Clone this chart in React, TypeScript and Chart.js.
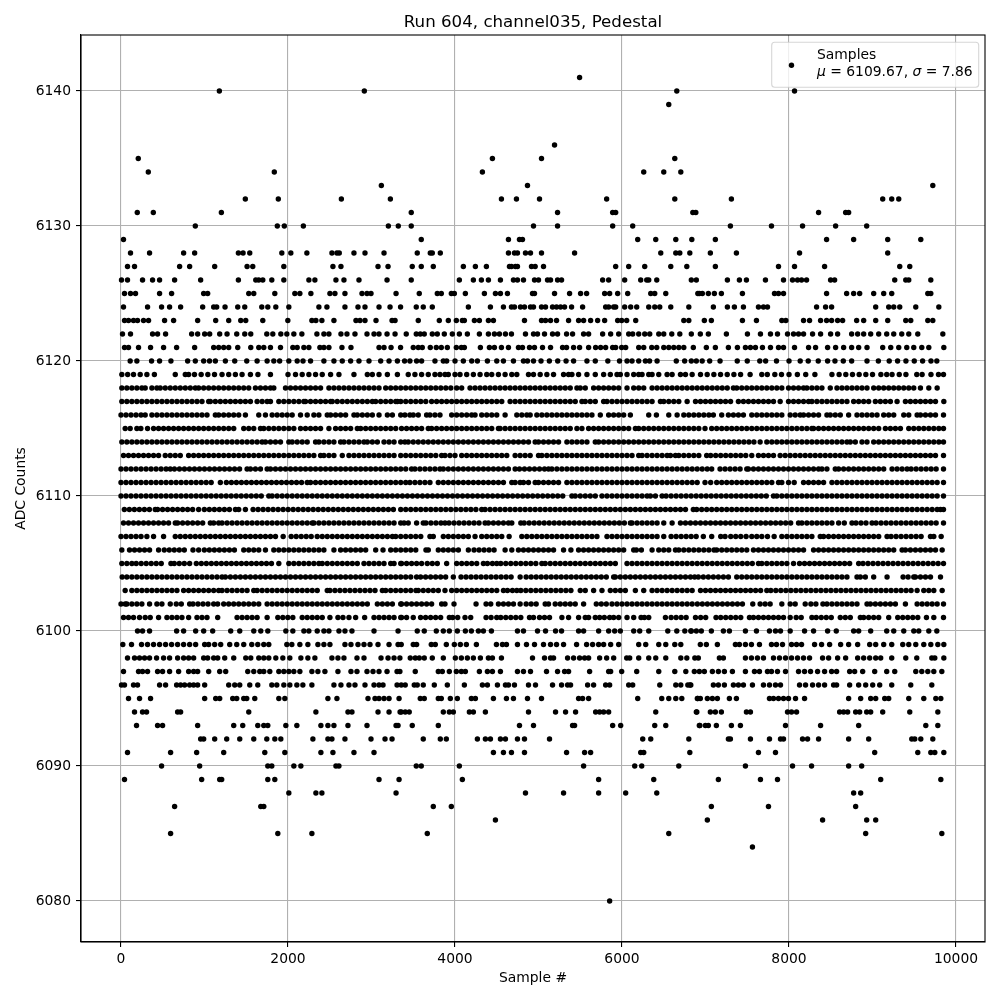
import React, { useEffect, useRef } from "react";
import { Chart, registerables } from "chart.js";
Chart.register(...registerables);

const xTicks = [0, 2000, 4000, 6000, 8000, 10000];
const yTicks = [6080, 6090, 6100, 6110, 6120, 6130, 6140];
const upperRows: Record<number, number[]> = {
  6141: [5492],
  6140: [1178, 2914, 6656, 8066],
  6139: [6560],
  6136: [5192],
  6135: [207, 4448, 5036, 6632],
  6134: [327, 1836, 4328, 6260, 6500, 6704],
  6133: [3118, 4868, 9722],
  6132: [1489, 1884, 2639, 3226, 4556, 4736, 5012, 5816, 6632, 7310, 9122, 9230, 9314],
  6131: [195, 387, 1202, 3476, 5228, 5888, 5924, 6848, 6884, 8354, 8678, 8714],
  6130: [890, 1872, 1956, 2184, 3202, 3321, 3476, 4940, 5228, 5888, 6128, 7298, 7790, 8162, 8558, 8930],
  6129: [30, 3596, 4640, 4772, 4808, 6188, 6404, 6644, 6836, 7118, 8450, 8774, 9182, 9578],
  6128: [114, 342, 750, 882, 1406, 1462, 1542, 1926, 2034, 2226, 2526, 2586, 2614, 2790, 2922, 3150, 3548, 3704, 3728, 3824, 4640, 4712, 4748, 4844, 4904, 5036, 5432, 6464, 6644, 6692, 6812, 7058, 7370, 8126, 9182],
  6127: [78, 162, 702, 822, 1122, 1510, 1578, 1950, 2538, 2634, 3078, 3198, 3488, 3596, 3740, 4100, 4244, 4376, 4652, 4676, 4724, 4748, 4916, 4960, 5060, 5924, 6080, 6272, 6584, 6776, 7118, 7874, 8066, 8426, 9326, 9446],
  6126: [6, 78, 258, 378, 462, 642, 954, 1406, 1614, 1650, 1698, 1806, 1950, 2250, 2322, 2574, 2670, 2850, 3186, 3476, 4052, 4220, 4316, 4400, 4544, 4700, 4748, 4820, 4952, 5000, 5108, 5144, 5228, 5276, 5768, 5840, 6032, 6224, 6296, 6320, 6416, 6830, 6890, 7262, 7406, 7490, 7718, 7934, 8042, 8102, 8150, 8210, 8498, 8546, 9266, 9398, 9434, 9698],
  6125: [42, 114, 174, 462, 606, 990, 1038, 1530, 1590, 1842, 2082, 2142, 2274, 2502, 2562, 2682, 2886, 2946, 2994, 3294, 3572, 3788, 3836, 3956, 3992, 4124, 4352, 4484, 4544, 4628, 4928, 4952, 5192, 5372, 5504, 5576, 5792, 5852, 5948, 6068, 6344, 6392, 6524, 6908, 6926, 6962, 7034, 7106, 7190, 7442, 7826, 7874, 7934, 8450, 8690, 8774, 8846, 9014, 9134, 9230, 9662, 9698],
  6124: [30, 318, 486, 582, 714, 978, 1110, 1146, 1246, 1398, 1482, 1686, 1758, 1854, 2010, 2370, 2466, 2682, 2838, 2922, 3090, 3222, 3348, 3536, 3620, 3728, 4160, 4424, 4580, 4676, 4712, 4784, 4832, 4904, 4940, 5036, 5084, 5168, 5216, 5264, 5312, 5396, 5528, 5804, 5840, 5900, 5924, 6032, 6104, 6176, 6320, 6392, 6452, 6584, 6800, 7094, 7262, 7346, 7454, 7634, 7694, 7742, 8330, 8438, 8510, 9038, 9194, 9254, 9326, 9518, 9794],
  6123: [42, 90, 150, 198, 270, 330, 522, 630, 918, 1134, 1290, 1434, 1494, 1698, 1998, 2286, 2334, 2406, 2550, 2814, 2862, 2922, 3054, 3246, 3282, 3560, 3812, 3920, 4016, 4088, 4112, 4232, 4292, 4400, 4460, 4832, 5036, 5084, 5144, 5216, 5360, 5480, 5540, 5624, 5708, 5792, 5948, 5996, 6056, 6164, 6740, 6800, 6986, 7070, 7442, 7610, 7914, 7962, 8174, 8246, 8378, 8450, 8510, 8582, 8642, 8810, 8894, 9038, 9182, 9398, 9458, 9662, 9722],
  6122: [18, 114, 378, 438, 534, 846, 918, 1002, 1062, 1182, 1270, 1386, 1482, 1554, 1746, 1818, 1914, 1986, 2070, 2166, 2346, 2430, 2490, 2634, 2706, 2802, 2946, 3030, 3090, 3186, 3282, 3416, 3536, 3584, 3632, 3728, 3788, 3872, 3968, 4052, 4148, 4292, 4400, 4472, 4532, 4604, 4676, 4844, 4940, 4988, 5072, 5168, 5228, 5336, 5408, 5540, 5600, 5768, 5864, 5960, 6080, 6128, 6200, 6272, 6332, 6440, 6500, 6596, 6692, 6830, 6938, 7034, 7250, 7502, 7658, 7778, 7862, 7982, 8054, 8114, 8174, 8282, 8378, 8498, 8582, 8750, 8822, 8894, 8978, 9074, 9170, 9254, 9350, 9434, 9542, 9842],
  6121: [42, 90, 210, 354, 510, 666, 882, 1110, 1170, 1230, 1290, 1398, 1554, 1650, 1710, 1790, 1910, 2058, 2110, 2190, 2250, 2382, 2430, 2490, 2646, 2754, 3090, 3150, 3234, 3348, 3500, 3560, 3608, 3704, 3776, 3836, 3908, 4016, 4076, 4112, 4304, 4412, 4472, 4556, 4640, 4760, 4808, 4892, 4952, 5048, 5144, 5288, 5336, 5420, 5492, 5600, 5684, 5744, 5804, 5888, 5924, 5996, 6044, 6200, 6260, 6356, 6416, 6500, 6560, 6620, 6680, 6740, 6854, 7010, 7118, 7274, 7382, 7478, 7538, 7598, 7682, 7778, 7874, 7934, 8066, 8234, 8318, 8462, 8558, 8654, 8750, 8834, 8934, 9122, 9218, 9314, 9410, 9494, 9590, 9674, 9854],
  6120: [110, 190, 366, 462, 598, 798, 890, 990, 1060, 1130, 1250, 1362, 1506, 1630, 1750, 1830, 1900, 2010, 2110, 2180, 2270, 2430, 2550, 2650, 2750, 2850, 2970, 3110, 3210, 3310, 3396, 3460, 3540, 3600, 3760, 3860, 3900, 4000, 4100, 4200, 4268, 4388, 4500, 4580, 4700, 4820, 4868, 4940, 5030, 5130, 5230, 5330, 5420, 5580, 5680, 5830, 5970, 6060, 6120, 6200, 6280, 6330, 6420, 6650, 6750, 6830, 6890, 6960, 7050, 7174, 7380, 7500, 7650, 7720, 7850, 8000, 8134, 8230, 8350, 8462, 8550, 8650, 8750, 8934, 9070, 9200, 9300, 9400, 9500, 9600, 9700, 9770],
  6119: [10, 80, 150, 230, 310, 400, 650, 770, 810, 880, 960, 1040, 1120, 1210, 1290, 1370, 1450, 1550, 1640, 1790, 2000, 2090, 2170, 2250, 2330, 2410, 2510, 2610, 2790, 2950, 3010, 3090, 3190, 3310, 3440, 3520, 3600, 3680, 3760, 3820, 3880, 3920, 4000, 4060, 4140, 4220, 4300, 4380, 4440, 4520, 4600, 4680, 4740, 4880, 4940, 5020, 5100, 5180, 5300, 5360, 5400, 5480, 5580, 5680, 5780, 5860, 5940, 5980, 6060, 6140, 6200, 6240, 6320, 6360, 6440, 6540, 6600, 6700, 6760, 6840, 6940, 7020, 7100, 7180, 7260, 7340, 7420, 7534, 7674, 7740, 7830, 7910, 8000, 8100, 8200, 8310, 8514, 8600, 8680, 8760, 8840, 8920, 9000, 9100, 9170, 9234, 9320, 9400, 9530, 9594, 9700, 9790, 9850],
};
const middleRows: Record<number, number[]> = {
  6118: [10, 70, 130, 190, 250, 290, 370, 430, 470, 530, 590, 650, 710, 770, 830, 890, 930, 990, 1050, 1110, 1170, 1230, 1290, 1350, 1410, 1470, 1530, 1610, 1670, 1730, 1790, 1830, 1970, 2030, 2090, 2150, 2210, 2270, 2330, 2390, 2490, 2550, 2610, 2670, 2730, 2790, 2850, 2910, 2970, 3030, 3090, 3170, 3230, 3290, 3350, 3410, 3470, 3530, 3590, 3650, 3710, 3770, 3830, 3890, 3950, 4020, 4080, 4180, 4240, 4300, 4360, 4420, 4480, 4540, 4600, 4660, 4720, 4780, 4840, 4900, 4960, 5020, 5080, 5140, 5200, 5260, 5320, 5380, 5460, 5500, 5560, 5660, 5720, 5780, 5840, 5900, 5960, 6060, 6140, 6200, 6260, 6360, 6420, 6480, 6540, 6600, 6660, 6720, 6780, 6840, 6900, 6960, 7020, 7080, 7140, 7200, 7260, 7334, 7374, 7434, 7494, 7554, 7614, 7674, 7734, 7794, 7854, 7914, 7994, 8054, 8114, 8174, 8214, 8274, 8334, 8394, 8494, 8574, 8634, 8694, 8754, 8814, 8874, 8934, 9014, 9074, 9134, 9194, 9254, 9314, 9374, 9434, 9494, 9574, 9674, 9774],
  6117: [10, 70, 130, 190, 250, 310, 370, 430, 490, 550, 610, 670, 730, 790, 850, 910, 970, 1050, 1070, 1130, 1190, 1250, 1310, 1370, 1430, 1490, 1550, 1630, 1690, 1750, 1790, 1890, 1950, 2010, 2070, 2130, 2190, 2210, 2270, 2330, 2390, 2450, 2510, 2530, 2590, 2650, 2710, 2770, 2830, 2890, 2950, 3010, 3050, 3110, 3170, 3230, 3290, 3310, 3350, 3410, 3470, 3530, 3590, 3650, 3720, 3780, 3840, 3900, 3960, 4020, 4080, 4140, 4200, 4260, 4320, 4380, 4440, 4500, 4560, 4660, 4720, 4780, 4840, 4900, 4960, 5020, 5080, 5140, 5200, 5260, 5320, 5380, 5440, 5520, 5560, 5620, 5680, 5780, 5820, 5880, 5940, 6000, 6060, 6120, 6180, 6240, 6300, 6360, 6460, 6500, 6560, 6620, 6680, 6780, 6880, 6940, 7000, 7060, 7120, 7180, 7240, 7300, 7394, 7454, 7514, 7574, 7634, 7694, 7754, 7814, 7894, 7994, 8054, 8114, 8174, 8234, 8274, 8334, 8394, 8454, 8514, 8574, 8634, 8694, 8774, 8834, 8894, 8954, 9034, 9094, 9154, 9214, 9294, 9394, 9454, 9514, 9574, 9634, 9694, 9754, 9854],
  6116: [0, 60, 120, 180, 240, 290, 370, 430, 490, 550, 610, 670, 730, 790, 850, 910, 970, 1030, 1130, 1170, 1230, 1290, 1350, 1410, 1490, 1650, 1730, 1810, 1870, 1930, 1990, 2050, 2150, 2230, 2310, 2370, 2470, 2510, 2570, 2630, 2690, 2790, 2830, 2890, 2950, 3010, 3090, 3190, 3250, 3350, 3400, 3460, 3500, 3560, 3660, 3700, 3760, 3820, 3960, 4020, 4080, 4140, 4200, 4240, 4320, 4380, 4440, 4500, 4600, 4740, 4800, 4860, 4900, 4980, 5040, 5100, 5160, 5220, 5280, 5340, 5400, 5460, 5520, 5580, 5640, 5740, 5840, 5900, 5960, 6020, 6100, 6320, 6412, 6560, 6660, 6740, 6800, 6860, 6920, 6980, 7040, 7094, 7194, 7274, 7334, 7394, 7454, 7554, 7614, 7674, 7734, 7794, 7854, 7914, 8014, 8074, 8134, 8174, 8234, 8294, 8354, 8454, 8494, 8554, 8614, 8714, 8814, 8874, 8934, 8994, 9054, 9134, 9194, 9254, 9374, 9434, 9534, 9574, 9634, 9694, 9754, 9850],
  6115: [50, 110, 190, 238, 318, 390, 450, 510, 570, 630, 690, 750, 810, 870, 930, 990, 1050, 1110, 1170, 1230, 1290, 1350, 1470, 1530, 1590, 1670, 1710, 1770, 1830, 1890, 1950, 2010, 2070, 2150, 2210, 2270, 2330, 2390, 2490, 2570, 2630, 2690, 2750, 2830, 2870, 2930, 2990, 3050, 3110, 3170, 3230, 3290, 3360, 3420, 3480, 3540, 3600, 3680, 3720, 3780, 3840, 3900, 3960, 4020, 4080, 4140, 4200, 4260, 4320, 4380, 4440, 4520, 4540, 4600, 4660, 4720, 4780, 4840, 4900, 4960, 5020, 5080, 5140, 5200, 5260, 5320, 5380, 5460, 5520, 5600, 5660, 5720, 5780, 5840, 5900, 5960, 6020, 6080, 6160, 6200, 6260, 6320, 6380, 6440, 6500, 6560, 6620, 6680, 6740, 6800, 6860, 6920, 6994, 7074, 7134, 7194, 7254, 7314, 7374, 7434, 7494, 7554, 7614, 7674, 7734, 7794, 7854, 7914, 7974, 8034, 8094, 8154, 8214, 8274, 8294, 8354, 8414, 8474, 8534, 8594, 8654, 8714, 8774, 8834, 8894, 8954, 9014, 9074, 9154, 9214, 9274, 9334, 9434, 9494, 9554, 9614, 9674, 9734, 9794, 9850],
  6114: [10, 70, 130, 190, 250, 310, 370, 430, 490, 550, 610, 670, 730, 790, 850, 910, 970, 1030, 1090, 1150, 1210, 1270, 1330, 1390, 1450, 1510, 1570, 1630, 1690, 1730, 1790, 1850, 1910, 2010, 2050, 2110, 2170, 2230, 2330, 2370, 2430, 2490, 2550, 2630, 2670, 2730, 2790, 2850, 2910, 2950, 3010, 3070, 3150, 3210, 3270, 3350, 3400, 3440, 3500, 3560, 3620, 3680, 3740, 3800, 3860, 3920, 3980, 4040, 4100, 4160, 4220, 4280, 4340, 4400, 4460, 4520, 4580, 4640, 4700, 4760, 4820, 4880, 4960, 5000, 5060, 5120, 5180, 5240, 5340, 5400, 5460, 5520, 5580, 5680, 5720, 5780, 5840, 5900, 5960, 6020, 6080, 6140, 6200, 6260, 6320, 6380, 6440, 6500, 6560, 6620, 6680, 6740, 6800, 6860, 6920, 6980, 7040, 7100, 7160, 7220, 7280, 7340, 7400, 7460, 7520, 7580, 7654, 7734, 7794, 7854, 7914, 7974, 8034, 8094, 8154, 8214, 8274, 8334, 8394, 8454, 8514, 8574, 8634, 8694, 8734, 8794, 8874, 8934, 9014, 9074, 9134, 9194, 9254, 9314, 9374, 9434, 9494, 9554, 9614, 9674, 9734, 9794, 9850],
  6113: [30, 90, 150, 210, 270, 330, 390, 450, 530, 590, 650, 710, 810, 870, 930, 990, 1050, 1110, 1170, 1230, 1290, 1350, 1410, 1470, 1530, 1590, 1650, 1710, 1770, 1830, 1890, 1950, 2010, 2070, 2130, 2190, 2250, 2310, 2390, 2430, 2490, 2550, 2650, 2730, 2790, 2850, 2910, 2970, 3030, 3090, 3150, 3210, 3270, 3350, 3410, 3470, 3530, 3590, 3650, 3710, 3770, 3840, 3880, 3940, 4000, 4080, 4140, 4200, 4260, 4320, 4380, 4440, 4500, 4560, 4620, 4720, 4780, 4840, 4900, 5000, 5040, 5100, 5160, 5220, 5280, 5340, 5400, 5460, 5520, 5580, 5640, 5700, 5760, 5820, 5880, 5940, 6000, 6060, 6120, 6200, 6240, 6300, 6360, 6420, 6480, 6540, 6580, 6640, 6680, 6740, 6800, 6860, 6920, 7014, 7062, 7122, 7182, 7242, 7302, 7362, 7422, 7482, 7554, 7634, 7694, 7754, 7814, 7894, 7954, 8014, 8074, 8134, 8194, 8254, 8314, 8374, 8434, 8494, 8554, 8614, 8674, 8734, 8794, 8854, 8914, 8974, 9034, 9094, 9154, 9214, 9274, 9334, 9394, 9454, 9514, 9574, 9634, 9694, 9754, 9850],
  6112: [0, 60, 120, 180, 240, 300, 360, 420, 480, 540, 590, 640, 700, 760, 820, 880, 940, 1000, 1060, 1120, 1180, 1240, 1300, 1360, 1420, 1510, 1550, 1610, 1670, 1750, 1790, 1850, 1910, 1970, 2030, 2090, 2150, 2210, 2270, 2330, 2390, 2450, 2510, 2570, 2630, 2690, 2750, 2810, 2870, 2930, 2990, 3050, 3110, 3170, 3230, 3290, 3350, 3410, 3480, 3520, 3580, 3640, 3700, 3760, 3820, 3860, 3920, 3980, 4040, 4100, 4160, 4220, 4280, 4340, 4400, 4460, 4520, 4580, 4640, 4720, 4772, 4832, 4892, 4952, 5012, 5072, 5120, 5160, 5220, 5280, 5340, 5400, 5460, 5520, 5580, 5640, 5700, 5760, 5820, 5880, 5940, 6000, 6060, 6120, 6180, 6240, 6300, 6360, 6420, 6480, 6540, 6600, 6660, 6720, 6780, 6840, 6900, 6960, 7020, 7074, 7174, 7234, 7294, 7354, 7414, 7494, 7514, 7574, 7634, 7694, 7754, 7814, 7874, 7934, 7994, 8054, 8114, 8174, 8234, 8294, 8354, 8394, 8454, 8554, 8594, 8654, 8714, 8774, 8834, 8894, 8954, 9014, 9074, 9134, 9234, 9294, 9354, 9414, 9462, 9522, 9582, 9642, 9702, 9762, 9850],
  6111: [0, 60, 120, 180, 240, 300, 360, 420, 480, 540, 600, 660, 720, 780, 840, 900, 960, 1020, 1080, 1190, 1262, 1322, 1382, 1442, 1502, 1562, 1622, 1682, 1742, 1802, 1862, 1922, 1982, 2042, 2102, 2162, 2230, 2270, 2330, 2390, 2450, 2510, 2570, 2630, 2690, 2750, 2810, 2870, 2930, 2990, 3050, 3110, 3170, 3230, 3290, 3350, 3410, 3460, 3520, 3580, 3640, 3700, 3800, 3860, 3920, 3980, 4040, 4100, 4160, 4220, 4280, 4340, 4400, 4460, 4520, 4580, 4680, 4720, 4780, 4820, 4880, 4960, 5000, 5060, 5120, 5180, 5240, 5340, 5400, 5460, 5520, 5580, 5640, 5700, 5760, 5820, 5880, 5940, 6000, 6060, 6120, 6180, 6240, 6300, 6360, 6420, 6480, 6540, 6600, 6660, 6720, 6780, 6840, 6900, 6994, 7062, 7134, 7194, 7254, 7314, 7374, 7434, 7494, 7554, 7614, 7674, 7734, 7794, 7874, 7914, 7994, 8062, 8174, 8234, 8294, 8354, 8414, 8514, 8574, 8634, 8694, 8754, 8814, 8874, 8934, 8994, 9054, 9114, 9174, 9234, 9294, 9354, 9414, 9474, 9534, 9594, 9654, 9714, 9774, 9850],
  6110: [0, 60, 120, 180, 240, 300, 360, 420, 480, 540, 600, 660, 720, 780, 840, 900, 960, 1020, 1080, 1140, 1200, 1260, 1320, 1380, 1440, 1500, 1560, 1620, 1680, 1770, 1810, 1870, 1930, 1990, 2050, 2110, 2170, 2230, 2290, 2350, 2410, 2470, 2530, 2590, 2650, 2710, 2770, 2830, 2890, 2950, 3010, 3070, 3130, 3190, 3250, 3310, 3370, 3430, 3490, 3550, 3610, 3670, 3730, 3790, 3850, 3910, 3970, 4030, 4090, 4150, 4210, 4270, 4330, 4390, 4450, 4510, 4570, 4630, 4690, 4750, 4810, 4870, 4930, 4990, 5050, 5110, 5170, 5230, 5290, 5400, 5440, 5500, 5560, 5620, 5680, 5760, 5820, 5880, 5940, 6000, 6060, 6120, 6180, 6240, 6300, 6340, 6400, 6480, 6528, 6588, 6648, 6708, 6768, 6828, 6888, 6948, 7008, 7068, 7128, 7188, 7248, 7308, 7368, 7428, 7488, 7548, 7608, 7668, 7728, 7814, 7854, 7914, 7974, 8034, 8094, 8154, 8214, 8274, 8334, 8394, 8454, 8514, 8574, 8634, 8694, 8754, 8814, 8874, 8934, 8994, 9054, 9114, 9174, 9234, 9294, 9354, 9414, 9474, 9534, 9594, 9654, 9714, 9774, 9850],
  6109: [40, 100, 160, 220, 280, 340, 410, 438, 498, 558, 618, 678, 738, 798, 858, 930, 998, 1058, 1118, 1178, 1238, 1298, 1370, 1410, 1490, 1582, 1642, 1702, 1762, 1822, 1882, 1942, 2002, 2062, 2122, 2182, 2242, 2302, 2362, 2422, 2482, 2542, 2602, 2662, 2722, 2782, 2842, 2902, 2962, 3022, 3082, 3142, 3202, 3262, 3350, 3410, 3470, 3530, 3590, 3650, 3710, 3770, 3830, 3890, 3950, 4010, 4070, 4130, 4190, 4250, 4320, 4360, 4420, 4480, 4540, 4600, 4660, 4720, 4780, 4840, 4900, 4960, 5020, 5080, 5140, 5200, 5260, 5320, 5380, 5440, 5500, 5560, 5620, 5680, 5740, 5800, 5860, 5920, 5980, 6040, 6100, 6160, 6220, 6280, 6340, 6400, 6460, 6520, 6580, 6640, 6700, 6760, 6854, 6894, 6954, 7014, 7074, 7134, 7194, 7254, 7314, 7374, 7434, 7494, 7554, 7614, 7674, 7734, 7794, 7854, 7914, 7974, 8034, 8094, 8154, 8214, 8274, 8334, 8394, 8454, 8514, 8574, 8634, 8694, 8754, 8814, 8874, 8934, 8994, 9054, 9114, 9174, 9234, 9294, 9354, 9414, 9474, 9534, 9594, 9654, 9714, 9774, 9814, 9850],
  6108: [30, 90, 150, 210, 270, 330, 390, 450, 510, 570, 650, 678, 738, 798, 858, 918, 978, 1070, 1110, 1170, 1210, 1270, 1330, 1390, 1450, 1510, 1570, 1630, 1690, 1750, 1810, 1870, 1930, 1990, 2050, 2110, 2170, 2230, 2290, 2310, 2370, 2430, 2490, 2550, 2610, 2670, 2730, 2790, 2850, 2910, 2970, 3030, 3090, 3150, 3210, 3270, 3350, 3390, 3440, 3540, 3620, 3652, 3712, 3772, 3832, 3880, 3928, 3988, 4048, 4108, 4168, 4228, 4288, 4360, 4400, 4460, 4520, 4580, 4640, 4680, 4788, 4828, 4888, 4948, 5008, 5068, 5128, 5188, 5248, 5308, 5368, 5428, 5488, 5548, 5608, 5668, 5728, 5788, 5848, 5908, 5968, 6028, 6100, 6120, 6180, 6240, 6300, 6360, 6420, 6500, 6600, 6700, 6760, 6820, 6880, 6940, 7000, 7060, 7120, 7180, 7240, 7300, 7360, 7420, 7480, 7540, 7600, 7660, 7720, 7780, 7840, 7900, 7960, 8020, 8114, 8154, 8214, 8274, 8334, 8394, 8454, 8514, 8594, 8662, 8754, 8802, 8862, 8922, 8994, 9042, 9102, 9162, 9222, 9282, 9342, 9402, 9462, 9522, 9582, 9642, 9702, 9762, 9850],
  6107: [0, 60, 120, 180, 240, 310, 390, 510, 650, 710, 770, 830, 890, 950, 1010, 1070, 1130, 1190, 1250, 1310, 1370, 1430, 1490, 1550, 1610, 1670, 1730, 1790, 1850, 1942, 2038, 2098, 2158, 2218, 2278, 2350, 2410, 2470, 2530, 2590, 2650, 2710, 2770, 2830, 2890, 2950, 3010, 3070, 3130, 3190, 3250, 3290, 3350, 3410, 3470, 3530, 3590, 3700, 3740, 3860, 3920, 3980, 4040, 4100, 4160, 4240, 4320, 4380, 4440, 4500, 4560, 4648, 4800, 4860, 4920, 4980, 5040, 5100, 5160, 5220, 5280, 5340, 5400, 5460, 5520, 5580, 5640, 5700, 5820, 5880, 5940, 6000, 6060, 6120, 6180, 6240, 6300, 6360, 6420, 6500, 6588, 6648, 6708, 6768, 6828, 6888, 6974, 7074, 7182, 7234, 7302, 7362, 7422, 7486, 7554, 7614, 7674, 7742, 7822, 7914, 7974, 8034, 8094, 8154, 8214, 8274, 8374, 8414, 8474, 8534, 8594, 8654, 8714, 8774, 8834, 8894, 8954, 9014, 9074, 9174, 9222, 9282, 9342, 9402, 9462, 9522, 9582, 9694, 9734, 9822],
  6106: [10, 102, 162, 222, 282, 342, 450, 518, 578, 638, 698, 758, 862, 930, 998, 1058, 1118, 1178, 1238, 1298, 1358, 1470, 1530, 1590, 1650, 1730, 1830, 1890, 1950, 2010, 2070, 2130, 2190, 2250, 2310, 2370, 2430, 2550, 2630, 2690, 2750, 2810, 2870, 2930, 3050, 3138, 3230, 3290, 3350, 3410, 3470, 3530, 3652, 3680, 3800, 3860, 3920, 3980, 4040, 4160, 4228, 4288, 4348, 4408, 4468, 4600, 4680, 4760, 4820, 4880, 4940, 5000, 5060, 5120, 5180, 5300, 5388, 5480, 5540, 5600, 5660, 5720, 5780, 5840, 5900, 5960, 6020, 6140, 6172, 6232, 6360, 6440, 6500, 6560, 6640, 6680, 6740, 6800, 6860, 6920, 6980, 7040, 7102, 7134, 7194, 7254, 7314, 7374, 7434, 7494, 7574, 7634, 7694, 7754, 7814, 7874, 7934, 7994, 8054, 8114, 8174, 8294, 8354, 8414, 8474, 8534, 8594, 8654, 8714, 8774, 8834, 8894, 8954, 9014, 9074, 9134, 9194, 9254, 9354, 9394, 9454, 9514, 9574, 9634, 9694, 9754, 9834],
  6105: [10, 70, 130, 182, 242, 302, 362, 422, 482, 598, 638, 698, 758, 822, 902, 962, 1022, 1082, 1142, 1202, 1262, 1322, 1382, 1442, 1502, 1562, 1622, 1682, 1742, 1802, 1890, 2010, 2070, 2130, 2190, 2250, 2310, 2370, 2410, 2470, 2530, 2590, 2650, 2710, 2770, 2830, 2910, 2970, 3030, 3090, 3150, 3230, 3270, 3350, 3360, 3420, 3480, 3540, 3600, 3668, 3728, 3788, 3900, 4020, 4080, 4140, 4200, 4260, 4340, 4388, 4448, 4500, 4548, 4608, 4668, 4728, 4788, 4848, 4908, 4968, 5040, 5080, 5140, 5200, 5260, 5320, 5380, 5440, 5500, 5560, 5620, 5680, 5740, 5800, 5860, 5920, 6060, 6120, 6180, 6240, 6300, 6360, 6420, 6480, 6540, 6600, 6660, 6720, 6780, 6840, 6900, 6960, 7020, 7080, 7140, 7200, 7260, 7320, 7380, 7440, 7500, 7560, 7634, 7674, 7734, 7794, 7854, 7914, 7974, 8054, 8126, 8186, 8246, 8306, 8366, 8426, 8486, 8546, 8606, 8666, 8726, 8834, 8886, 8946, 9006, 9066, 9126, 9186, 9246, 9306, 9366, 9426, 9486, 9546, 9606, 9666, 9726, 9786, 9850],
  6104: [14, 70, 130, 190, 250, 310, 370, 430, 490, 550, 610, 670, 730, 790, 850, 910, 970, 1030, 1090, 1150, 1210, 1250, 1310, 1370, 1430, 1490, 1550, 1610, 1670, 1730, 1790, 1850, 1910, 1970, 2030, 2090, 2150, 2210, 2270, 2330, 2390, 2450, 2510, 2570, 2630, 2690, 2750, 2810, 2870, 2930, 2990, 3050, 3110, 3170, 3230, 3290, 3350, 3410, 3470, 3540, 3588, 3648, 3708, 3768, 3828, 3888, 3980, 4072, 4132, 4192, 4252, 4312, 4372, 4432, 4492, 4552, 4612, 4672, 4780, 4852, 4912, 4972, 5032, 5092, 5152, 5212, 5272, 5332, 5392, 5452, 5512, 5572, 5632, 5692, 5752, 5812, 5900, 5920, 5980, 6040, 6100, 6160, 6220, 6280, 6340, 6400, 6460, 6520, 6580, 6640, 6700, 6760, 6820, 6870, 6914, 6974, 7034, 7094, 7154, 7214, 7274, 7374, 7434, 7494, 7554, 7614, 7674, 7734, 7794, 7854, 7914, 7974, 8034, 8094, 8154, 8214, 8274, 8334, 8394, 8454, 8514, 8574, 8634, 8694, 8814, 8854, 8914, 9014, 9174, 9366, 9426, 9494, 9514, 9574, 9634, 9694, 9814],
  6103: [50, 130, 190, 250, 310, 370, 430, 490, 550, 610, 670, 750, 810, 870, 930, 990, 1050, 1110, 1170, 1210, 1270, 1330, 1390, 1450, 1510, 1590, 1630, 1690, 1750, 1810, 1870, 1930, 1990, 2050, 2110, 2170, 2230, 2290, 2350, 2470, 2502, 2562, 2622, 2682, 2742, 2802, 2862, 2922, 2982, 3042, 3130, 3170, 3230, 3290, 3350, 3410, 3470, 3532, 3560, 3620, 3680, 3740, 3800, 3880, 3960, 4020, 4080, 4140, 4200, 4260, 4320, 4380, 4440, 4500, 4580, 4628, 4688, 4740, 4788, 4848, 4908, 4968, 5028, 5088, 5148, 5208, 5268, 5328, 5388, 5500, 5560, 5660, 5760, 5860, 5920, 5980, 6040, 6160, 6260, 6360, 6420, 6480, 6540, 6600, 6660, 6720, 6780, 6840, 6940, 7000, 7060, 7120, 7180, 7240, 7300, 7360, 7420, 7480, 7540, 7600, 7660, 7734, 7782, 7842, 7902, 7962, 8022, 8082, 8142, 8202, 8262, 8322, 8382, 8442, 8502, 8562, 8622, 8682, 8742, 8802, 8862, 8922, 8982, 9042, 9102, 9162, 9222, 9282, 9342, 9402, 9462, 9534, 9614, 9674, 9734, 9834],
  6102: [0, 50, 70, 130, 190, 250, 342, 430, 490, 590, 662, 722, 822, 862, 922, 982, 1042, 1110, 1158, 1230, 1290, 1350, 1410, 1470, 1530, 1590, 1650, 1750, 1810, 1870, 1930, 1990, 2050, 2110, 2170, 2230, 2290, 2350, 2410, 2470, 2530, 2590, 2650, 2710, 2770, 2830, 2890, 2950, 3070, 3130, 3190, 3250, 3350, 3360, 3420, 3480, 3540, 3600, 3660, 3720, 3840, 3880, 3988, 4252, 4372, 4428, 4520, 4580, 4640, 4700, 4780, 4852, 4912, 4972, 5080, 5120, 5200, 5260, 5320, 5380, 5440, 5540, 5692, 5752, 5812, 5880, 5940, 6000, 6060, 6120, 6180, 6240, 6300, 6360, 6420, 6480, 6540, 6600, 6660, 6720, 6780, 6840, 6902, 6962, 7022, 7082, 7142, 7202, 7262, 7322, 7382, 7442, 7566, 7654, 7714, 7774, 7914, 8014, 8074, 8194, 8262, 8322, 8406, 8454, 8514, 8574, 8634, 8694, 8754, 8814, 8934, 8974, 9034, 9094, 9154, 9214, 9274, 9394, 9534, 9594, 9654, 9714, 9774, 9850],
  6101: [30, 90, 150, 222, 290, 350, 450, 550, 610, 670, 730, 810, 910, 970, 1030, 1158, 1390, 1450, 1510, 1570, 1630, 1750, 1878, 1938, 1998, 2058, 2170, 2230, 2290, 2350, 2410, 2502, 2598, 2658, 2730, 2810, 2918, 3030, 3090, 3150, 3210, 3270, 3350, 3360, 3420, 3500, 3588, 3648, 3708, 3768, 3828, 3932, 3972, 4032, 4120, 4188, 4372, 4432, 4500, 4548, 4608, 4668, 4728, 4788, 4892, 4940, 5012, 5072, 5132, 5280, 5360, 5480, 5560, 5600, 5680, 5732, 5788, 5852, 5900, 5960, 6060, 6140, 6228, 6268, 6320, 6520, 6588, 6648, 6708, 6768, 6880, 6942, 7002, 7126, 7182, 7242, 7302, 7362, 7422, 7526, 7574, 7634, 7694, 7754, 7814, 7874, 7934, 8014, 8086, 8146, 8274, 8326, 8386, 8446, 8506, 8614, 8674, 8734, 8854, 8894, 8954, 9014, 9074, 9194, 9302, 9362, 9422, 9482, 9542, 9646, 9734, 9850],
};
const lowerRows: Record<number, number[]> = {
  6100: [198, 258, 342, 666, 750, 894, 990, 1098, 1314, 1422, 1590, 1674, 1758, 1974, 2058, 2190, 2250, 2350, 2430, 2490, 2610, 2682, 2766, 3030, 3318, 3548, 3632, 3776, 3860, 3932, 4028, 4124, 4196, 4280, 4340, 4436, 4748, 4820, 4988, 5084, 5204, 5276, 5480, 5540, 5720, 5840, 5912, 5980, 6140, 6212, 6320, 6548, 6656, 6752, 6824, 6830, 6890, 6950, 7070, 7214, 7286, 7478, 7610, 7766, 7838, 7898, 8014, 8186, 8294, 8462, 8566, 8774, 8834, 8978, 9170, 9254, 9374, 9494, 9554, 9674, 9770],
  6099: [22, 126, 246, 318, 390, 462, 534, 606, 678, 750, 822, 894, 1002, 1050, 1122, 1194, 1302, 1386, 1470, 1566, 1638, 1710, 1770, 1986, 2046, 2142, 2238, 2358, 2430, 2502, 2682, 2754, 2838, 2910, 2982, 3078, 3210, 3318, 3356, 3500, 3540, 3716, 3764, 3896, 3992, 4064, 4136, 4256, 4496, 4568, 4616, 4748, 4856, 4952, 5060, 5144, 5216, 5300, 5456, 5576, 5648, 5720, 5780, 5864, 5960, 6200, 6284, 6440, 6524, 6632, 6704, 6938, 7010, 7142, 7358, 7406, 7478, 7550, 7646, 7790, 7850, 7922, 8030, 8090, 8150, 8306, 8390, 8486, 8618, 8714, 8822, 8966, 9038, 9134, 9230, 9362, 9434, 9518, 9614, 9698, 9782, 9854],
  6098: [78, 162, 222, 282, 342, 426, 510, 582, 678, 750, 810, 870, 990, 1038, 1110, 1158, 1242, 1350, 1494, 1554, 1650, 1710, 1770, 1854, 1938, 2022, 2154, 2238, 2322, 2526, 2598, 2670, 2826, 2910, 3114, 3198, 3270, 3340, 3464, 3524, 3572, 3632, 3728, 3860, 4004, 4076, 4148, 4220, 4304, 4400, 4448, 4556, 4928, 5072, 5144, 5180, 5348, 5420, 5492, 5552, 5600, 5732, 5816, 5900, 6056, 6092, 6200, 6320, 6404, 6524, 6704, 6776, 6872, 6914, 7166, 7214, 7478, 7550, 7622, 7694, 7814, 7886, 7958, 8030, 8102, 8174, 8246, 8402, 8474, 8582, 8678, 8822, 8894, 8966, 9038, 9098, 9230, 9398, 9530, 9710, 9746, 9854],
  6097: [30, 210, 258, 318, 438, 498, 582, 690, 810, 870, 918, 1050, 1182, 1254, 1518, 1590, 1662, 1710, 1782, 1890, 1950, 2010, 2070, 2142, 2286, 2358, 2442, 2598, 2754, 2826, 2946, 3018, 3090, 3186, 3306, 3340, 3524, 3800, 3848, 3932, 4016, 4076, 4124, 4292, 4388, 4448, 4544, 4748, 4820, 4904, 5096, 5228, 5312, 5360, 5612, 5840, 5864, 5996, 6176, 6440, 6632, 6764, 6866, 6926, 6986, 7082, 7154, 7226, 7322, 7478, 7586, 7646, 7742, 7790, 7862, 7958, 8114, 8186, 8258, 8342, 8426, 8510, 8570, 8726, 8786, 8882, 9026, 9170, 9266, 9518, 9590, 9662, 9734, 9830],
  6096: [6, 42, 150, 198, 462, 534, 666, 714, 762, 822, 870, 918, 1002, 1290, 1362, 1422, 1542, 1638, 1806, 1866, 1950, 2022, 2106, 2178, 2286, 2550, 2634, 2730, 2802, 2922, 3030, 3090, 3138, 3306, 3356, 3404, 3512, 3548, 3620, 3752, 3908, 4112, 4328, 4388, 4508, 4604, 4640, 4712, 4880, 4964, 5168, 5276, 5348, 5384, 5588, 5660, 5804, 5852, 6080, 6128, 6452, 6644, 6704, 6788, 6824, 6814, 7094, 7154, 7226, 7334, 7394, 7454, 7562, 7694, 7766, 7838, 7898, 8126, 8198, 8282, 8354, 8426, 8534, 8570, 8726, 8834, 8918, 9002, 9086, 9230, 9458, 9710],
  6095: [90, 222, 354, 1002, 1134, 1182, 1338, 1386, 1470, 1506, 1602, 1890, 1962, 2478, 2586, 2958, 3042, 3090, 3150, 3210, 3330, 3584, 3632, 3800, 3836, 3944, 4028, 4196, 4244, 4460, 4616, 4700, 4868, 5036, 5480, 5528, 5600, 6188, 6476, 6560, 6644, 6716, 6908, 6902, 6938, 7022, 7082, 7142, 7286, 7370, 7766, 7814, 7874, 7934, 7994, 8078, 8186, 8714, 8858, 8978, 9038, 9146, 9194, 9434, 9614, 9758, 9818],
  6094: [162, 258, 306, 678, 714, 1530, 2334, 2718, 2766, 3078, 3210, 3342, 3356, 3404, 3452, 3860, 3932, 3980, 4172, 4220, 4364, 4880, 5204, 5324, 5444, 5684, 5732, 5780, 5840, 6404, 6896, 6890, 7058, 7118, 7190, 7490, 7538, 7982, 8030, 8090, 8606, 8654, 8702, 8798, 8846, 8930, 8978, 9122, 9446, 9782],
  6093: [186, 438, 498, 918, 1350, 1458, 1638, 1710, 1758, 1974, 2106, 2394, 2478, 2550, 2718, 2946, 3294, 3318, 3488, 3800, 4772, 4940, 5408, 5432, 5888, 5984, 6392, 6524, 6932, 6926, 6998, 7034, 7130, 7310, 7418, 7958, 8378, 8834, 9638, 9782],
  6092: [954, 990, 1122, 1266, 1422, 1590, 1746, 1842, 1914, 2298, 2478, 2526, 2682, 2994, 3162, 3246, 3620, 3824, 3896, 4268, 4364, 4424, 4544, 4604, 4748, 4832, 5132, 6248, 6344, 6800, 7274, 7298, 7538, 7766, 7898, 7934, 8162, 8222, 8354, 8714, 8954, 9470, 9506, 9578, 9722],
  6091: [78, 594, 906, 1230, 1722, 1962, 2394, 2538, 2790, 3030, 4460, 4580, 4676, 4832, 5336, 5552, 5624, 6224, 6260, 6812, 7634, 7838, 9026, 9542, 9698, 9746, 9854],
  6090: [486, 942, 1758, 1806, 2070, 2154, 2574, 2610, 3536, 3596, 4052, 5540, 6152, 6236, 6680, 7478, 8042, 8270, 8714, 8870],
  6089: [42, 966, 1182, 1206, 1758, 1842, 3090, 3330, 4088, 5720, 6380, 7154, 7658, 7862, 9098, 9818],
  6088: [2010, 2334, 2406, 3294, 4844, 5300, 5720, 6044, 6416, 8774, 8858],
  6087: [642, 1674, 1710, 3740, 3956, 7070, 7754, 8798],
  6086: [4484, 7022, 8402, 8930, 9038],
  6085: [594, 1878, 2286, 3668, 6560, 8918, 9830],
  6084: [7562],
  6080: [5852],
};
const FONT = '"DejaVu Sans"';

export default function App() {
  const ref = useRef<HTMLCanvasElement>(null);
  useEffect(() => {
    document.body.style.margin = "0";
    const data: { x: number; y: number }[] = [];
    [upperRows, middleRows, lowerRows].forEach((rows) =>
      Object.entries(rows).forEach(([lvl, xs]) => xs.forEach((x) => data.push({ x, y: Number(lvl) })))
    );
    const frame = {
      id: "frame",
      afterDraw(c: any) {
        const { ctx, chartArea: a } = c;
        ctx.save();
        ctx.strokeStyle = "#000";
        ctx.lineWidth = 1.1;
        ctx.strokeRect(a.left, a.top, a.right - a.left, a.bottom - a.top);
        const bx = 771.7, by = 42.3, bw = 207, bh = 45;
        ctx.beginPath();
        ctx.roundRect(bx, by, bw, bh, 3);
        ctx.fillStyle = "rgba(255,255,255,0.8)";
        ctx.fill();
        ctx.strokeStyle = "rgba(204,204,204,0.8)";
        ctx.lineWidth = 1.1;
        ctx.stroke();
        ctx.fillStyle = "#000";
        ctx.beginPath();
        ctx.arc(791.5, 65.3, 2.7, 0, Math.PI * 2);
        ctx.fill();
        ctx.textBaseline = "alphabetic";
        ctx.textAlign = "left";
        ctx.font = `13.89px ${FONT}`;
        ctx.fillText("Samples", 817, 59);
        let px = 817;
        const y = 76;
        const seg = (t: string, it: boolean) => {
          ctx.font = `${it ? "italic " : ""}13.89px ${FONT}`;
          ctx.fillText(t, px, y);
          px += ctx.measureText(t).width;
        };
        seg("μ", true); seg(" = 6109.67, ", false); seg("σ", true); seg(" = 7.86", false);
        ctx.restore();
      },
    };
    const chart = new Chart(ref.current!, {
      type: "scatter",
      data: {
        datasets: [{ label: "Samples", data, backgroundColor: "#000", borderColor: "#000", pointRadius: 2.7, pointBorderWidth: 0 }],
      },
      plugins: [frame],
      options: {
        responsive: false,
        animation: false,
        layout: { padding: { left: 0, right: 15, top: 0, bottom: 0 } },
        plugins: {
          legend: { display: false },
          tooltip: { enabled: false },
          title: {
            display: true,
            fullSize: false,
            text: "Run 604, channel035, Pedestal",
            color: "#000",
            font: { family: FONT, size: 16.67, weight: "normal" },
            padding: { top: 13, bottom: 2 },
          },
        },
        scales: {
          x: {
            type: "linear",
            min: -479,
            max: 10347,
            afterBuildTicks: (s: any) => { s.ticks = xTicks.map((value) => ({ value })); },
            afterFit: (s: any) => { s.height = 58; },
            grid: { color: "#b0b0b0", lineWidth: 1.1, tickColor: "#000", tickLength: 5, tickWidth: 1.1 },
            border: { color: "#000", width: 1.1 },
            ticks: { color: "#000", font: { family: FONT, size: 13.89 }, padding: 4, maxRotation: 0, autoSkip: false, callback: (v: any) => String(v) },
            title: { display: true, text: "Sample #", color: "#000", font: { family: FONT, size: 13.89 }, padding: { top: 5, bottom: 13 } },
          },
          y: {
            type: "linear",
            min: 6076.96,
            max: 6144.15,
            afterBuildTicks: (s: any) => { s.ticks = yTicks.map((value) => ({ value })); },
            afterFit: (s: any) => { s.width = 81; },
            grid: { color: "#b0b0b0", lineWidth: 1.1, tickColor: "#000", tickLength: 5, tickWidth: 1.1 },
            border: { color: "#000", width: 1.1 },
            ticks: { color: "#000", font: { family: FONT, size: 13.89 }, padding: 5, autoSkip: false, callback: (v: any) => String(v) },
            title: { display: true, text: "ADC Counts", color: "#000", font: { family: FONT, size: 13.89 }, padding: { top: 13, bottom: 5 } },
          },
        },
      } as any,
    });
    return () => chart.destroy();
  }, []);
  return <canvas ref={ref} width={1000} height={1000} style={{ display: "block" }} />;
}
